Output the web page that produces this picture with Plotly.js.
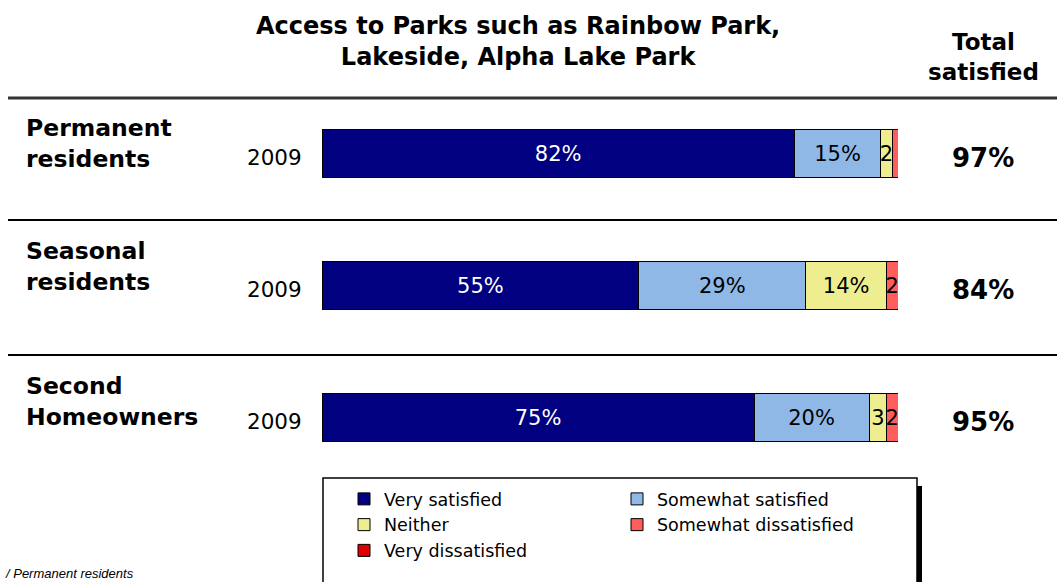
<!DOCTYPE html>
<html><head><meta charset="utf-8">
<script src="https://cdn.plot.ly/plotly-3.0.1.min.js"></script>
<style>html,body{margin:0;padding:0;background:#fff;} #chart{width:1057px;height:582px;}</style>
</head><body><div id="chart"></div>
<script>
// ---- data ----
const groupKeys = ["Permanent residents", "Seasonal residents", "Second Homeowners"];
const groupLabels = ["Permanent<br>residents", "Seasonal<br>residents", "Second<br>Homeowners"];
const years = ["2009", "2009", "2009"];
const seriesNames = ["Very satisfied", "Somewhat satisfied", "Neither", "Somewhat dissatisfied", "Very dissatisfied"];
const verySatisfied = [82, 55, 75];
const somewhatSatisfied = [15, 29, 20];
const neither = [2, 14, 3];
const somewhatDissatisfied = [1, 2, 2];
const veryDissatisfied = [0, 0, 0];
const titleText = "Access to Parks such as Rainbow Park,<br>Lakeside, Alpha Lake Park";
const totalHeader = "Total<br>satisfied";
const footnote = "/ Permanent residents";

// ---- style ----
const seriesValues = [verySatisfied, somewhatSatisfied, neither, somewhatDissatisfied, veryDissatisfied];
const colors = ["#000080", "#8FB8E6", "#EEEE90", "#FF5C5C", "#E00000"];
const textColors = ["#ffffff", "#000000", "#000000", "#000000", "#000000"];
const labelShift = [10, 19, 16];
const FONT = "DejaVu Sans, Verdana, sans-serif";

function lbl(v) { return v >= 10 ? v + "%" : (v >= 2 ? String(v) : ""); }

const traces = seriesNames.map((name, i) => ({
  type: "bar", orientation: "h", name: name,
  x: seriesValues[i], y: groupKeys,
  text: seriesValues[i].map(lbl),
  textposition: "inside", insidetextanchor: "middle", constraintext: "none",
  textfont: {family: FONT, size: 21, color: textColors[i]},
  marker: {color: colors[i], line: {color: "#000000", width: 1}},
  hoverinfo: "skip"
}));

const W = 1057, H = 582, L = 322, R = 159, T = 88, B = 0;
const pw = W - L - R, ph = H - T - B;
const px = x => (x - L) / pw;
const py = y => (H - B - y) / ph;

const annotations = [];
annotations.push({xref: "paper", yref: "paper", x: px(518), y: py(42), text: "<b>" + titleText + "</b>",
  showarrow: false, xanchor: "center", yanchor: "middle", align: "center",
  font: {family: FONT, size: 24, color: "#000"}});
annotations.push({xref: "paper", yref: "paper", x: px(983), y: py(57), text: "<b>" + totalHeader + "</b>",
  showarrow: false, xanchor: "center", yanchor: "middle", align: "center",
  font: {family: FONT, size: 23, color: "#000"}});
groupKeys.forEach((g, i) => {
  annotations.push({xref: "paper", yref: "y", x: px(24), y: g, yshift: labelShift[i],
    text: "<b>" + groupLabels[i] + "</b>", showarrow: false, xanchor: "left", yanchor: "middle", align: "left",
    font: {family: FONT, size: 23.5, color: "#000"}});
  annotations.push({xref: "paper", yref: "y", x: px(304), y: g, yshift: -4,
    text: years[i], showarrow: false, xanchor: "right", yanchor: "middle",
    font: {family: FONT, size: 21.5, color: "#000"}});
  const tot = verySatisfied[i] + somewhatSatisfied[i];
  annotations.push({xref: "paper", yref: "y", x: px(983), y: g, yshift: -4,
    text: "<b>" + tot + "%</b>", showarrow: false, xanchor: "center", yanchor: "middle",
    font: {family: FONT, size: 26, color: "#000"}});
});
annotations.push({xref: "paper", yref: "paper", x: px(3), y: py(564), text: "<i>" + footnote + "</i>",
  showarrow: false, xanchor: "left", yanchor: "top", font: {family: "Liberation Sans, Arial, sans-serif", size: 13, color: "#000"}});

const shapes = [
  {type: "line", xref: "paper", yref: "paper", x0: px(8), x1: px(1057), y0: py(98), y1: py(98), line: {color: "#333", width: 3}},
  {type: "line", xref: "paper", yref: "paper", x0: px(8), x1: px(1057), y0: py(220), y1: py(220), line: {color: "#000", width: 2}},
  {type: "line", xref: "paper", yref: "paper", x0: px(8), x1: px(1057), y0: py(355), y1: py(355), line: {color: "#000", width: 2}},
  {type: "rect", xref: "paper", yref: "paper", x0: px(917), x1: px(922), y0: py(486), y1: py(600), fillcolor: "#000", line: {width: 0}},
  {type: "rect", xref: "paper", yref: "paper", x0: px(323), x1: px(917), y0: py(478), y1: py(600), fillcolor: "#fff", line: {color: "#000", width: 1.5}}
];

const layout = {
  width: W, height: H, margin: {l: L, r: R, t: T, b: B, pad: 0},
  paper_bgcolor: "#fff", plot_bgcolor: "rgba(0,0,0,0)",
  barmode: "stack", bargap: 0.63, showlegend: true, hovermode: false,
  xaxis: {range: [0, 100], visible: false, fixedrange: true},
  yaxis: {type: "category", categoryarray: groupKeys, categoryorder: "array",
    range: [2 + (H - B - 417.5) / 132, -(153.5 - T) / 132],
    showticklabels: false, showgrid: false, zeroline: false, showline: false, ticks: "", fixedrange: true},
  legend: {orientation: "h", x: px(344), y: py(481), xanchor: "left", yanchor: "top",
    bgcolor: "rgba(0,0,0,0)", borderwidth: 0, entrywidth: 228, traceorder: "normal",
    font: {family: FONT, size: 17.5, color: "#000"}, tracegroupgap: 0},
  annotations: annotations, shapes: shapes
};

Plotly.newPlot("chart", traces, layout, {displayModeBar: false, staticPlot: true});
</script></body></html>
